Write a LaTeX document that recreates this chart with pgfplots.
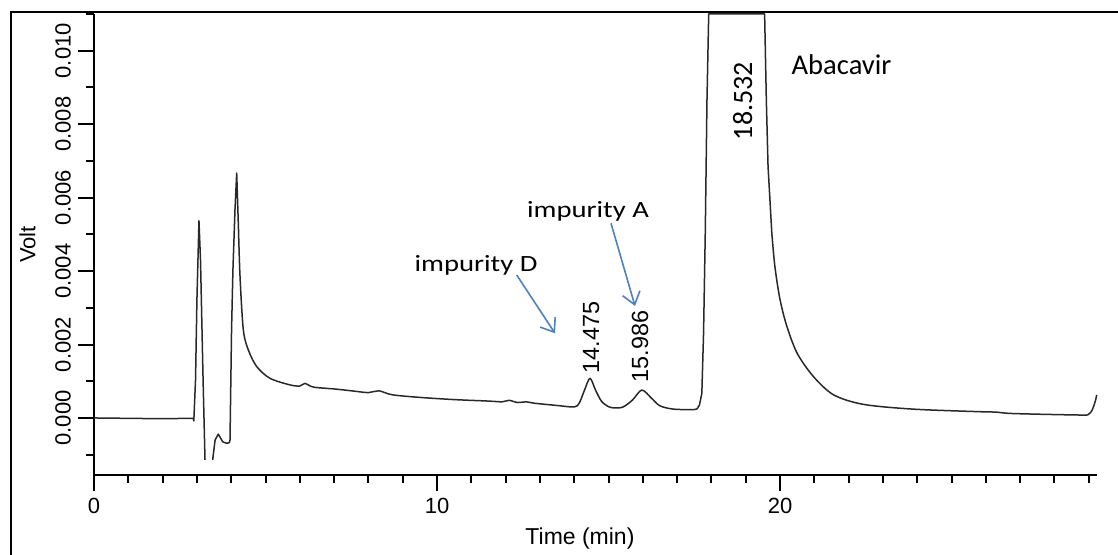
\documentclass[border=0pt]{standalone}
\usepackage{pgfplots}
\pgfplotsset{compat=1.18}
\usepackage{fontspec}
\setmainfont{Liberation Sans}
\newfontfamily\calibs[FakeStretch=1.23]{Carlito}
\newfontfamily\calib{Carlito}
\usetikzlibrary{arrows.meta}
\definecolor{arrowblue}{RGB}{79,129,189}
\definecolor{trace}{RGB}{40,40,40}
\tikzset{trace/.style={color=trace, line width=0.75pt, line join=round, mark=none}}
\begin{document}
\begin{tikzpicture}
\useasboundingbox (0,0) rectangle (559pt,277.5pt);
\begin{axis}[
  at={(47pt,40pt)}, anchor=south west,
  scale only axis, width=501.5pt, height=230.5pt,
  xmin=0, xmax=29.24, ymin=-0.001553, ymax=0.011,
  axis x line*=bottom, axis y line*=left,
  axis line style={line width=1pt,-},
  tick align=outside,
  major tick length=8pt, minor tick length=4pt,
  every tick/.style={black, line width=1pt},
  xtick={0,10,20},
  minor xtick={1,2,3,4,5,6,7,8,9,11,12,13,14,15,16,17,18,19,21,22,23,24,25,26,27,28,29},
  ytick={0,0.002,0.004,0.006,0.008,0.010},
  yticklabels={0.000,0.002,0.004,0.006,0.008,0.010},
  minor ytick={-0.001,0.001,0.003,0.005,0.007,0.009,0.011},
  scaled y ticks=false,
  /pgf/number format/assume math mode=true,
  ticklabel style={font=\fontsize{11}{13}\selectfont},
  yticklabel style={rotate=90, anchor=south},
  xlabel={Time (min)},
  xlabel style={at={(axis description cs:0.4845,-0.1497)}, anchor=base, font=\fontsize{11.5}{13}\selectfont},
  ylabel={Volt},
  ylabel style={at={(axis description cs:-0.0584,0.5)}, anchor=base, font=\fontsize{11}{13}\selectfont},
  clip=false,
  unbounded coords=jump,
]
% solvent front region (sharp)
\addplot[trace] coordinates {
(0,0) (1.924,-0.00002) (2.895,-0.00001) (2.91,-0.00008) (2.96,0.00104) (3.0,0.0032)
(3.06,0.00537) (3.105,0.0043) (3.18,0.00104) (3.236,-0.00114)
(3.3,nan)
(3.46,-0.00114) (3.53,-0.0006) (3.624,-0.00044) (3.752,-0.00065) (3.869,-0.00069)
(3.945,-0.00067) (3.965,-0.0006) (4.01,0.0024) (4.05,0.00403) (4.11,0.00567)
(4.16,0.00667) (4.213,0.00512)
};
% baseline and impurity peaks (smooth)
\addplot[trace, smooth, tension=0.5] coordinates {
(4.213,0.00512) (4.257,0.00385) (4.353,0.0024) (4.5,0.00185)
(4.743,0.0014) (5.13,0.00108) (5.714,0.0009) (6.0,0.00087) (6.15,0.00094)
(6.4,0.00084) (7.0,0.00079) (7.5,0.00074) (8.0,0.00069) (8.3,0.00074)
(8.7,0.00063) (9.5,0.00056) (10.5,0.0005) (11.5,0.00046) (11.9,0.00044)
(12.1,0.00048) (12.35,0.00042) (12.6,0.00044) (12.85,0.0004) (13.5,0.00034)
(14.0,0.0003) (14.15,0.00041) (14.3,0.00076) (14.46,0.00108) (14.62,0.00076)
(14.8,0.00045) (15.05,0.00029) (15.4,0.00029) (15.7,0.00049) (15.97,0.00076)
(16.25,0.00054) (16.5,0.00033) (16.9,0.00024) (17.5,0.00023) (17.6,0.00028)
};
% main peak (sharp, clipped at top)
\addplot[trace] coordinates {
(17.6,0.00028) (17.65,0.00035)
(17.72,0.00067) (17.77,0.00231) (17.82,0.00504) (17.87,0.00866) (17.92,0.011)
(19.55,0.011) (19.6,0.00866) (19.65,0.00685) (19.76,0.00503)
};
% tail (smooth)
\addplot[trace, smooth, tension=0.5] coordinates {
(19.76,0.00503) (19.85,0.00412)
(20.0,0.00322) (20.2,0.00249) (20.5,0.00176) (20.97,0.00113) (21.56,0.00063)
(22.43,0.00037) (23.89,0.00024) (25.83,0.00017) (26.3,0.00016) (26.8,0.00012)
(28.75,0.00008) (28.99,0.0001) (29.1,0.00022) (29.2,0.00049) (29.23,0.00063)
};
\end{axis}
% outer frame (left and top edges)
\draw[line width=0.8pt] (5.5pt,0pt) -- (5.5pt,271.5pt) -- (559pt,271.5pt);
% annotations
\node[font=\calibs\fontsize{11.65}{13}\selectfont, anchor=base] at (238pt,141.65pt) {impurity D};
\node[font=\calibs\fontsize{11.65}{13}\selectfont, anchor=base] at (294pt,168.65pt) {impurity A};
\node[font=\calib\fontsize{14.3}{16}\selectfont, anchor=base] at (420.75pt,240pt) {Abacavir};
\node[font=\calib\fontsize{14}{16}\selectfont, anchor=base, rotate=90] at (376pt,227pt) {18.532};
\node[font=\fontsize{11.7}{13}\selectfont, anchor=base, rotate=90] at (299.5pt,108.75pt) {14.475};
\node[font=\fontsize{11.7}{13}\selectfont, anchor=base, rotate=90] at (324pt,104.15pt) {15.986};
\draw[arrowblue, line width=0.8pt, -{Straight Barb[length=6pt,width=9pt]}] (258.35pt,140pt) -- (277.5pt,110.85pt);
\draw[arrowblue, line width=0.8pt, -{Straight Barb[length=6pt,width=9pt]}] (305.5pt,165.85pt) -- (317.5pt,124.5pt);
\end{tikzpicture}
\end{document}
